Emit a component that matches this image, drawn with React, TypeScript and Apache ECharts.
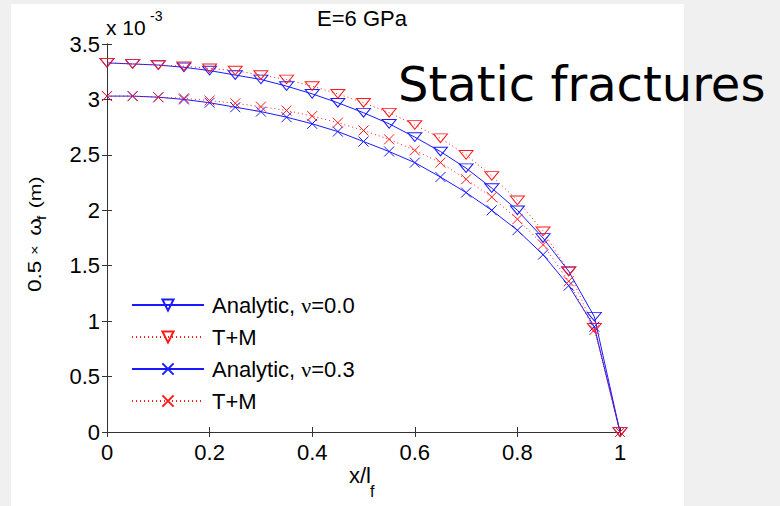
import React, { useEffect, useRef } from 'react';
import * as echarts from 'echarts';

// x / l_f
const xRatio = [0, 0.05, 0.1, 0.15, 0.2, 0.25, 0.3, 0.35, 0.4, 0.45, 0.5, 0.55, 0.6, 0.65, 0.7, 0.75, 0.8, 0.85, 0.9, 0.95, 1];
// 0.5 x omega_f, in units of 1e-3 m
const analyticNu00 = [3.33, 3.32, 3.31, 3.29, 3.26, 3.22, 3.18, 3.12, 3.05, 2.97, 2.88, 2.78, 2.66, 2.53, 2.38, 2.2, 2.0, 1.75, 1.45, 1.04, 0];
const tmNu00 = [3.33, 3.32, 3.31, 3.3, 3.28, 3.26, 3.22, 3.18, 3.12, 3.05, 2.97, 2.88, 2.77, 2.65, 2.5, 2.31, 2.09, 1.81, 1.45, 0.94, 0];
const analyticNu03 = [3.03, 3.03, 3.02, 3.0, 2.97, 2.93, 2.89, 2.84, 2.78, 2.71, 2.62, 2.53, 2.43, 2.3, 2.16, 2.0, 1.82, 1.6, 1.32, 0.95, 0];
const tmNu03 = [3.03, 3.03, 3.02, 3.01, 2.99, 2.965, 2.935, 2.9, 2.85, 2.79, 2.72, 2.64, 2.54, 2.43, 2.28, 2.12, 1.92, 1.69, 1.36, 0.92, 0];

const seriesNames = ['Analytic, ν=0.0', 'T+M (ν=0.0)', 'Analytic, ν=0.3', 'T+M (ν=0.3)'];
const xTicks = { min: 0, max: 1, interval: 0.2 };
const yTicks = { min: 0, max: 3.5, interval: 0.5 };

export default function App() {
  const ref = useRef<HTMLDivElement>(null);
  useEffect(() => {
    const chart = echarts.init(ref.current as HTMLDivElement, null, { renderer: 'svg' });
    const FONT = '"Liberation Sans", Arial, sans-serif';
    const axisColor = '#333333';
    const axisLine = { show: true, lineStyle: { color: axisColor, width: 1 } };
    const tick = { show: true, inside: true, length: 5, lineStyle: { color: axisColor, width: 1 } };
    const pair = (ys: number[]) => xRatio.map((x, i) => [x, ys[i]]);
    const TRI = 'path://M0,0L14,0L7,11Z';
    const CROSS = 'path://M0,0L10,10M10,0L0,10';
    const mk = (name: string, ys: number[], symbol: string, size: number | number[], color: string, dotted: boolean) => ({
      name,
      type: 'line',
      data: pair(ys),
      symbol,
      symbolSize: size,
      symbolKeepAspect: true,
      showAllSymbol: true,
      lineStyle: { color, width: 1, type: dotted ? [1, 3] : 'solid' },
      itemStyle: { color: 'rgba(0,0,0,0)', borderColor: color, borderWidth: 1 },
      emphasis: { disabled: true },
      silent: true,
    });
    const blue = '#1a1aff';
    const red = '#ff1a1a';
    const txt = (text: string, x: number, y: number, fontSize: number, extra: any = {}) => ({
      type: 'text', x, y,
      style: { text, fontSize, fontFamily: FONT, fill: '#000', align: 'left', verticalAlign: 'middle', ...extra },
    });
    const option: any = {
      animation: false,
      backgroundColor: '#f0f0f0',
      grid: { left: 107, top: 44, width: 513, height: 388 },
      xAxis: [
        {
          type: 'value', ...xTicks, position: 'bottom',
          axisLine, axisTick: tick, splitLine: { show: false },
          axisLabel: { fontSize: 22, fontFamily: FONT, color: '#000', margin: 9 },
        },
        {
          type: 'value', ...xTicks, position: 'top',
          axisLine, axisTick: tick, splitLine: { show: false }, axisLabel: { show: false },
        },
      ],
      yAxis: [
        {
          type: 'value', ...yTicks, position: 'left',
          axisLine, axisTick: tick, splitLine: { show: false },
          axisLabel: { fontSize: 22, fontFamily: FONT, color: '#000', margin: 7 },
        },
        {
          type: 'value', ...yTicks, position: 'right',
          axisLine, axisTick: tick, splitLine: { show: false }, axisLabel: { show: false },
        },
      ],
      legend: {
        data: seriesNames,
        orient: 'vertical',
        left: 131,
        top: 294,
        padding: 0,
        itemWidth: 72,
        itemHeight: 14,
        itemGap: 10,
        selectedMode: false,
        formatter: (name: string) => (name.startsWith('T+M') ? 'T+M' : name.replace('ν', '{nu|ν}')),
        textStyle: {
          fontSize: 22, fontFamily: FONT, color: '#000', lineHeight: 21, padding: [0, 0, 0, 3],
          rich: { nu: { fontSize: 22, fontFamily: '"Liberation Serif", serif', color: '#000', lineHeight: 21 } },
        },
      },
      series: [
        mk(seriesNames[0], analyticNu00, TRI, [14, 11], blue, false),
        mk(seriesNames[1], tmNu00, TRI, [14, 11], red, true),
        mk(seriesNames[2], analyticNu03, CROSS, 10, blue, false),
        mk(seriesNames[3], tmNu03, CROSS, 10, red, true),
      ],
      graphic: [
        { type: 'rect', z: -10, shape: { x: 11, y: 4, width: 673, height: 502 }, style: { fill: '#ffffff' } },
        txt('E=6 GPa', 362, 18, 22, { align: 'center' }),
        txt('x 10', 106, 27, 21),
        txt('-3', 150, 16, 14),
        txt('x/l', 371, 475, 22, { align: 'right' }),
        txt('f', 370, 491, 16),
        {
          type: 'group', x: 35, y: 292, rotation: Math.PI / 2,
          children: [
            {
              type: 'group', scaleX: 1.25, scaleY: 1,
              children: [
                txt('0.5', 0, 0, 18),
                txt('×', 29.6, 0, 13),
                txt('ω', 45, 0, 18),
                txt('f', 57.6, 7, 12),
                txt('(m)', 67, 0, 17),
              ],
            },
          ],
        },
        {
          type: 'text', z: 100, x: 398, y: 84,
          style: { text: 'Static fractures', fontSize: 48, fontFamily: '"DejaVu Sans", Verdana, sans-serif', fill: '#000', align: 'left', verticalAlign: 'middle' },
        },
      ],
    };
    chart.setOption(option);
    return () => chart.dispose();
  }, []);
  return <div ref={ref} style={{ position: 'fixed', left: 0, top: 0, width: 780, height: 506 }} />;
}
